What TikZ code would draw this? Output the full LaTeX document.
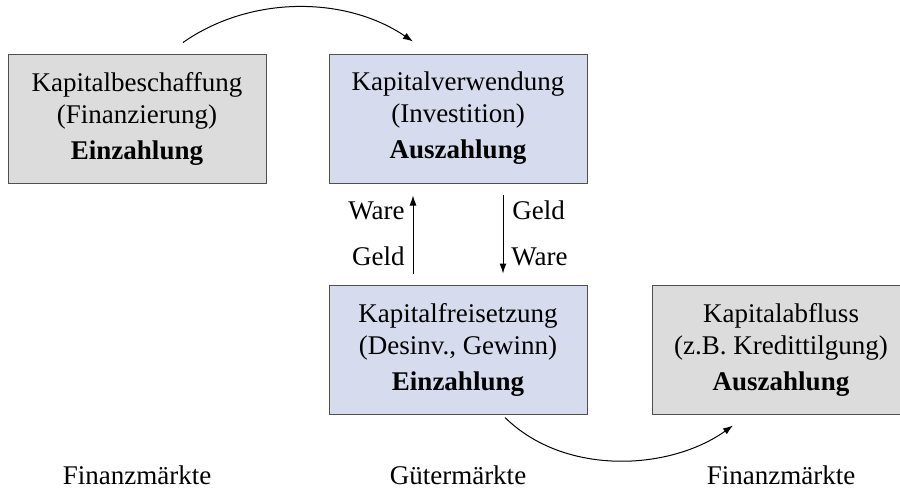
\documentclass[tikz,border=0pt]{standalone}
\usepackage{fontspec}
\setmainfont{Liberation Serif}
\usetikzlibrary{arrows.meta}
\definecolor{boxgray}{RGB}{220,220,220}
\definecolor{boxblue}{RGB}{214,219,238}
\definecolor{edgegray}{RGB}{80,80,80}
\tikzset{
  kbox/.style={draw=edgegray, line width=0.5pt, minimum width=129pt, minimum height=64.5pt,
     align=center, inner sep=0pt, font=\fontsize{13.5}{16}\selectfont},
  graybox/.style={kbox, fill=boxgray},
  bluebox/.style={kbox, fill=boxblue},
  flow/.style={line width=0.5pt, -{Latex[length=5pt,width=3.5pt]}},
  lbl/.style={font=\fontsize{13.5}{14}\selectfont, inner sep=0pt},
}
\begin{document}
\begin{tikzpicture}[x=0.5pt,y=-0.5pt]
\useasboundingbox (0,0) rectangle (900,493);
\clip (0,0) rectangle (900,493);
\node[graybox] (k1) at (137,118.5) {Kapitalbeschaffung\\(Finanzierung)\\[2pt]\textbf{Einzahlung}};
\node[bluebox] (k2) at (458,118.5) {Kapitalverwendung\\(Investition)\\[2pt]\textbf{Auszahlung}};
\node[bluebox] (k3) at (458,349.5) {Kapitalfreisetzung\\(Desinv., Gewinn)\\[2pt]\textbf{Einzahlung}};
\node[graybox] (k4) at (781,349.5) {Kapitalabfluss\\(z.B. Kredittilgung)\\[2pt]\textbf{Auszahlung}};

\draw[flow] ([shift={(46,-11)}]k1.north) .. controls +(67,-47) and +(-68,-46) .. ([shift={(-45,-12)}]k2.north);
\draw[flow] ([shift={(-45,-11)}]k3.north) -- ([shift={(-45,12)}]k2.south);
\draw[flow] ([shift={(45,11)}]k2.south) -- ([shift={(45,-11)}]k3.north);
\draw[flow] ([shift={(47,3)}]k3.south) .. controls +(60,59) and +(-63,45) .. ([shift={(-48,11)}]k4.south);

\node[lbl, anchor=base east] (w1) at (405,219) {Ware};
\node[lbl, anchor=base east] (g1) at (405,265) {Geld};
\node[lbl, anchor=base west] (g2) at (512,219) {Geld};
\node[lbl, anchor=base west] (w2) at (511,265) {Ware};

\node[lbl, anchor=base] (m1) at (137,484) {Finanzmärkte};
\node[lbl, anchor=base] (m2) at (458,484) {Gütermärkte};
\node[lbl, anchor=base] (m3) at (781,484) {Finanzmärkte};
\end{tikzpicture}
\end{document}
